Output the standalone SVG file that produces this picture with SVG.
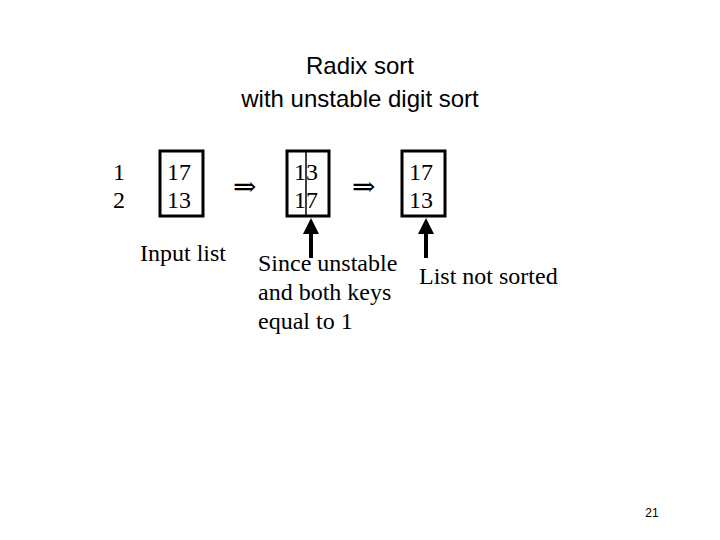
<svg xmlns="http://www.w3.org/2000/svg" width="720" height="540" viewBox="0 0 720 540">
<style>
.t{font-family:"Liberation Serif",serif;font-size:24px;fill:#000}
.h{font-family:"Liberation Sans",sans-serif;font-size:24px;fill:#000;text-anchor:middle}
.b{fill:none;stroke:#000;stroke-width:3}
.op{font-family:"DejaVu Serif",serif;font-size:28px;fill:#000}
</style>
<defs><marker id="ah" markerWidth="4" markerHeight="4" refX="2" refY="2" orient="auto"><path d="M0,0L4,2L0,4z" fill="#000"/></marker></defs>
<rect width="720" height="540" fill="#fff"/>
<g id="title"><text class="h" x="360" y="74">Radix sort</text><text class="h" x="360" y="107">with unstable digit sort</text></g>
<g id="index"><text class="t" x="113" y="180">1</text><text class="t" x="113" y="208">2</text></g>
<g id="box1"><rect class="b" x="160" y="151" width="43" height="65"/><text class="t" x="167" y="180">17</text><text class="t" x="167" y="208">13</text></g>
<g id="box2"><rect class="b" x="287" y="151" width="42" height="65"/><line x1="306" y1="151" x2="306" y2="216" stroke="#000" stroke-width="1.5"/><text class="t" x="294" y="180">13</text><text class="t" x="294" y="208">17</text></g>
<g id="box3"><rect class="b" x="402" y="151" width="43" height="65"/><text class="t" x="409" y="180">17</text><text class="t" x="409" y="208">13</text></g>
<g id="op1"><text class="op" x="233" y="196">⇒</text></g>
<g id="op2"><text class="op" x="352" y="196">⇒</text></g>
<g id="labels"><text class="t" x="140" y="261">Input list</text>
<text class="t" x="258" y="271">Since unstable</text><text class="t" x="258" y="300">and both keys</text><text class="t" x="258" y="329">equal to 1</text>
<text class="t" x="419" y="284">List not sorted</text>
<text x="652" y="517" font-family="Liberation Sans,sans-serif" font-size="12" text-anchor="middle">21</text></g>
<g id="connectors"><line x1="311" y1="258" x2="311" y2="226" stroke="#000" stroke-width="4" marker-end="url(#ah)"/><line x1="426" y1="258" x2="426" y2="226" stroke="#000" stroke-width="4" marker-end="url(#ah)"/></g>
</svg>
